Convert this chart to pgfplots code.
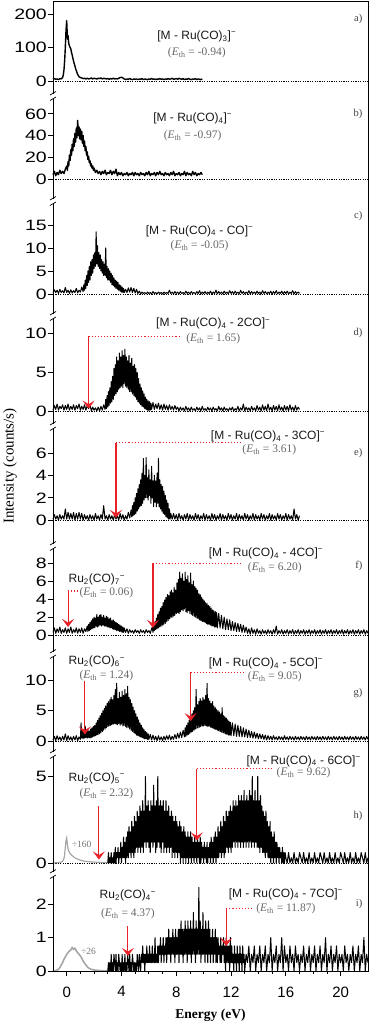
\documentclass[border=0pt]{standalone}
\usepackage{pgfplots}
\pgfplotsset{compat=1.18}
\usepackage{fontspec}
\setmainfont{Liberation Serif}
\setsansfont{Liberation Sans}
\newfontfamily\ytickfont[FakeStretch=1.3]{Liberation Sans}
\usetikzlibrary{arrows.meta}
\definecolor{arrred}{RGB}{232,32,40}
\pgfplotsset{
  panel/.style={
    scale only axis, width=315pt, xmin=-1, xmax=22, clip=false,
    axis line style={draw=none},
    xtick=\empty, ytick pos=left, tick align=outside,
    major tick length=5pt, minor tick length=3pt,
    every tick/.style={black, line width=0.8pt},
    yticklabel style={font=\ytickfont\fontsize{15}{15}\selectfont, inner xsep=1pt},
    /pgf/number format/assume math mode=true,
    anchor=north west,
  },
  trace/.style={black, line width=1.0pt, line join=round},
  zero/.style={black, line width=0.4pt, dash pattern=on 1.2pt off 1.2pt},
}
\tikzset{
  formula/.style={font=\fontsize{12}{12}\sffamily, text=black!90, inner sep=0pt},
  eth/.style={font=\fontsize{11.5}{11.5}\rmfamily, text=black!60, inner sep=0pt},
  plabel/.style={font=\fontsize{10.5}{10.5}\rmfamily, text=black!75, anchor=east, inner sep=0pt},
  redarrow/.style={arrred, line width=1.1pt, -{Stealth[length=8pt,width=12pt,inset=3.5pt]}},
  reddot/.style={arrred, line width=1.1pt, dotted},
}
\newcommand{\Eth}[1]{(\textit{E}\textsubscript{th} = #1)}
\begin{document}
\begin{tikzpicture}
% ---------------- a ----------------
\begin{axis}[panel, name=pa, at={(0pt,0pt)}, height=95pt, ymin=-45, ymax=239, ytick={0,100,200}]
\addplot[zero] coordinates {(-1,0)(22,0)};
\addplot[trace, line width=1.4pt] coordinates {(-1.0,5)(-0.9,7)(-0.8,5)(-0.7,6)(-0.6,4)(-0.5,7)(-0.4,6)(-0.3,10)(-0.25,18)(-0.2,32)(-0.15,60)(-0.1,100)(-0.05,150)(0,180)(0.03,150)(0.06,125)(0.1,135)(0.15,112)(0.2,105)(0.25,100)(0.3,96)(0.35,85)(0.4,78)(0.45,68)(0.5,60)(0.55,52)(0.6,45)(0.65,37)(0.7,31)(0.75,25)(0.8,20)(0.85,16)(0.9,13)(1.0,10)(1.1,9)(1.2,7)(1.3,8)(1.4,6)(1.5,8)(1.6,6)(1.7,7)(1.8,9)(1.9,6)(2.0,8)(2.1,7)(2.2,6)(2.3,8)(2.4,7)(2.5,9)(2.6,6)(2.7,8)(2.8,7)(2.9,6)(3.0,7)(3.1,5)(3.2,7)(3.3,6)(3.4,8)(3.5,6)(3.6,7)(3.7,6)(3.8,8)(3.9,10)(4.0,11)(4.1,9)(4.2,6)(4.3,4)(4.4,6)(4.5,5)(4.6,7)(4.7,5)(4.8,4)(4.9,6)(5.0,5)(5.1,6)(5.2,4)(5.3,6)(5.4,5)(5.5,7)(5.6,4)(5.7,6)(5.8,5)(5.9,4)(6.0,6)(6.1,5)(6.2,7)(6.3,5)(6.4,6)(6.5,4)(6.6,6)(6.7,5)(6.8,7)(6.9,5)(7.0,6)(7.1,4)(7.2,6)(7.3,5)(7.4,7)(7.5,5)(7.6,6)(7.7,8)(7.8,5)(7.9,6)(8.0,7)(8.1,5)(8.2,8)(8.3,6)(8.4,5)(8.5,7)(8.6,4)(8.7,6)(8.8,5)(8.9,7)(9.0,5)(9.1,4)(9.2,6)(9.3,5)(9.4,7)(9.5,4)(9.6,6)(9.7,5)(9.8,4)(9.9,6)};
\node[formula] at (axis cs:9.5,134) {[M - Ru(CO)\textsubscript{3}]\textsuperscript{−}};
\node[eth] at (axis cs:9.5,84) {\Eth{-0.94}};
\node[plabel] at (axis cs:21.6,185) {a)};
\end{axis}
% ---------------- b ----------------
\begin{axis}[panel, name=pb, at={(0pt,-95pt)}, height=105pt, ymin=-20.3, ymax=76.5, ytick={0,20,40,60}]
\addplot[zero] coordinates {(-1,0)(22,0)};
\addplot[trace, line width=1.4pt] coordinates {(-1.0,4)(-0.9,7)(-0.8,3)(-0.7,6)(-0.6,4)(-0.5,8)(-0.4,5)(-0.3,7)(-0.2,5)(-0.1,9)(0.0,12)(0.05,8)(0.1,16)(0.15,12)(0.2,22)(0.25,17)(0.3,27)(0.35,22)(0.4,32)(0.45,26)(0.5,37)(0.55,30)(0.6,42)(0.65,34)(0.7,47)(0.75,38)(0.8,54)(0.85,40)(0.9,48)(0.95,37)(1.0,46)(1.05,36)(1.1,44)(1.15,33)(1.2,40)(1.25,30)(1.3,35)(1.35,26)(1.4,30)(1.45,22)(1.5,25)(1.55,18)(1.6,21)(1.65,15)(1.7,17)(1.75,12)(1.8,14)(1.85,10)(1.9,12)(1.95,8)(2.0,10)(2.1,6)(2.2,8)(2.3,5)(2.4,7)(2.5,4)(2.6,7)(2.7,5)(2.8,8)(2.9,4)(3.0,6)(3.1,5)(3.2,8)(3.3,4)(3.4,7)(3.5,5)(3.6,9)(3.7,3)(3.8,6)(3.9,4)(4.0,6)(4.1,3)(4.2,5)(4.3,4)(4.4,6)(4.5,3)(4.6,5)(4.7,4)(4.8,6)(4.9,3)(5.0,6)(5.1,4)(5.2,5)(5.3,3)(5.4,6)(5.5,4)(5.6,5)(5.7,3)(5.8,6)(5.9,4)(6.0,7)(6.1,3)(6.2,5)(6.3,4)(6.4,6)(6.5,3)(6.6,6)(6.7,4)(6.8,7)(6.9,4)(7.0,5)(7.1,3)(7.2,6)(7.3,4)(7.4,5)(7.5,3)(7.6,6)(7.7,4)(7.8,7)(7.9,3)(8.0,5)(8.1,4)(8.2,6)(8.3,3)(8.4,5)(8.5,4)(8.6,7)(8.7,3)(8.8,6)(8.9,4)(9.0,5)(9.1,3)(9.2,7)(9.3,4)(9.4,6)(9.5,3)(9.6,5)(9.7,4)(9.8,6)(9.9,4)};
\node[formula] at (axis cs:9.2,56) {[M - Ru(CO)\textsubscript{4}]\textsuperscript{−}};
\node[eth] at (axis cs:9.2,40) {\Eth{-0.97}};
\node[plabel] at (axis cs:21.6,60) {b)};
\end{axis}
% ---------------- c ----------------
\begin{axis}[panel, name=pc, at={(0pt,-200pt)}, height=115pt, ymin=-4.8, ymax=20.2, ytick={0,5,10,15}]
\addplot[zero] coordinates {(-1,0)(22,0)};
\addplot[trace] coordinates {(-1.0,0.2)(-0.9,0.9)(-0.8,0.3)(-0.7,0.8)(-0.6,0.1)(-0.5,1.0)(-0.4,0.3)(-0.3,0.7)(-0.2,0.2)(-0.1,1.4)(0.0,0.3)(0.1,0.8)(0.2,0.1)(0.3,0.9)(0.4,0.2)(0.5,0.7)(0.6,0.3)(0.7,1.2)(0.8,0.2)(0.9,0.8)(1.0,0.4)(1.1,1.5)(1.2,0.5)(1.25,2.0)(1.3,0.8)(1.35,3.0)(1.4,1.2)(1.45,4.0)(1.5,1.8)(1.55,5.0)(1.6,2.5)(1.65,6.0)(1.7,3.0)(1.75,7.0)(1.8,4.0)(1.85,7.5)(1.9,4.5)(1.95,8.5)(2.0,5.5)(2.05,9.0)(2.1,6.0)(2.15,13.5)(2.2,6.5)(2.25,10.5)(2.3,6.0)(2.35,9.0)(2.4,5.5)(2.45,8.5)(2.5,5.0)(2.55,7.5)(2.6,4.5)(2.65,7.0)(2.7,4.0)(2.75,6.5)(2.8,4.0)(2.85,10.0)(2.9,3.5)(2.95,6.0)(3.0,3.0)(3.05,5.5)(3.1,3.0)(3.15,5.0)(3.2,2.5)(3.25,4.5)(3.3,2.0)(3.35,4.0)(3.4,1.8)(3.45,3.5)(3.5,1.5)(3.55,3.0)(3.6,1.2)(3.65,2.8)(3.7,1.0)(3.75,2.5)(3.8,0.8)(3.85,2.0)(3.9,0.6)(3.95,1.8)(4.0,0.4)(4.05,1.5)(4.1,0.3)(4.15,1.2)(4.2,0.3)(4.3,1.0)(4.4,0.3)(4.5,1.3)(4.6,0.4)(4.7,1.4)(4.8,0.3)(4.9,1.2)(5.0,0.2)(5.1,1.0)(5.2,0.1)(5.3,0.6)(5.4,0.0)(5.5,0.4)(5.6,0.1)(5.7,0.3)(5.8,0.0)(5.9,0.4)(6.0,0.1)(6.1,0.3)(6.2,0.0)(6.3,0.5)(6.4,0.1)(6.5,0.3)(6.6,0.0)(6.7,0.4)(6.8,0.1)(6.9,0.3)(7.0,0.0)(7.1,0.4)(7.2,0.1)(7.3,0.3)(7.4,0.1)(7.5,0.8)(7.6,0.1)(7.7,0.4)(7.8,0.0)(7.9,0.5)(8.0,0.1)(8.1,0.4)(8.2,0.0)(8.3,0.5)(8.4,0.1)(8.5,0.3)(8.6,0.0)(8.7,0.6)(8.8,0.1)(8.9,0.4)(9.0,0.0)(9.1,0.5)(9.2,0.1)(9.3,0.3)(9.4,0.0)(9.5,0.5)(9.6,0.1)(9.7,0.7)(9.8,0.0)(9.9,0.4)(10.0,0.1)(10.1,0.5)(10.2,0.0)(10.3,0.4)(10.4,0.1)(10.5,0.6)(10.6,0.0)(10.7,0.4)(10.8,0.1)(10.9,0.8)(11.0,0.0)(11.1,0.5)(11.2,0.1)(11.3,0.4)(11.4,0.0)(11.5,0.6)(11.6,0.1)(11.7,0.4)(11.8,0.0)(11.9,0.7)(12.0,0.1)(12.1,0.5)(12.2,0.0)(12.3,0.6)(12.4,0.1)(12.5,0.4)(12.6,0.0)(12.7,0.8)(12.8,0.1)(12.9,0.5)(13.0,0.0)(13.1,0.4)(13.2,0.1)(13.3,0.7)(13.4,0.0)(13.5,0.5)(13.6,0.1)(13.7,0.4)(13.8,0.0)(13.9,0.6)(14.0,0.1)(14.1,0.4)(14.2,0.0)(14.3,0.7)(14.4,0.1)(14.5,0.5)(14.6,0.0)(14.7,0.4)(14.8,0.1)(14.9,0.6)(15.0,0.0)(15.1,0.5)(15.2,0.1)(15.3,0.7)(15.4,0.0)(15.5,0.4)(15.6,0.1)(15.7,0.6)(15.8,0.0)(15.9,0.5)(16.0,0.1)(16.1,0.6)(16.2,0.0)(16.3,0.4)(16.4,0.1)(16.5,0.7)(16.6,0.0)(16.7,0.5)(16.8,0.1)(16.9,0.4)(17.0,0.1)};
\node[formula] at (axis cs:9.7,13.7) {[M - Ru(CO)\textsubscript{4} - CO]\textsuperscript{−}};
\node[eth] at (axis cs:9.7,10.4) {\Eth{-0.05}};
\node[plabel] at (axis cs:21.6,17) {c)};
\end{axis}
% ---------------- d ----------------
\begin{axis}[panel, name=pd, at={(0pt,-315pt)}, height=110pt, ymin=-1.95, ymax=12.3, ytick={0,5,10}]
\addplot[zero] coordinates {(-1,0)(22,0)};
\addplot[trace] coordinates {(-1.0,0.1)(-0.9,0.7)(-0.8,0.2)(-0.7,0.9)(-0.6,0.1)(-0.5,0.6)(-0.4,0.3)(-0.3,0.8)(-0.2,0.1)(-0.1,0.7)(0.0,0.2)(0.1,0.9)(0.2,0.1)(0.3,0.6)(0.4,0.2)(0.5,0.8)(0.6,0.1)(0.7,0.7)(0.8,0.3)(0.9,0.9)(1.0,0.1)(1.1,0.6)(1.2,0.2)(1.3,0.8)(1.4,0.1)(1.5,0.7)(1.6,0.3)(1.7,0.8)(1.8,0.0)(1.9,0.5)(2.0,0.1)(2.1,0.4)(2.2,0.0)(2.3,0.5)(2.4,0.0)(2.5,0.6)(2.6,0.1)(2.7,0.8)(2.8,0.2)(2.85,1.5)(2.9,0.3)(2.95,2.0)(3.0,0.5)(3.05,2.5)(3.1,0.7)(3.15,3.0)(3.2,1.0)(3.25,3.8)(3.3,1.2)(3.35,4.5)(3.4,1.5)(3.45,5.5)(3.5,2.0)(3.55,6.0)(3.6,2.2)(3.65,7.0)(3.7,2.5)(3.75,6.5)(3.8,2.8)(3.85,7.5)(3.9,3.0)(3.95,7.0)(4.0,3.2)(4.05,7.8)(4.1,3.0)(4.15,7.2)(4.2,3.5)(4.25,8.0)(4.3,3.2)(4.35,7.0)(4.4,3.0)(4.45,6.5)(4.5,2.8)(4.55,7.2)(4.6,2.5)(4.65,6.2)(4.7,2.5)(4.75,6.8)(4.8,2.2)(4.85,5.8)(4.9,2.0)(4.95,6.0)(5.0,1.8)(5.05,5.5)(5.1,1.5)(5.15,5.0)(5.2,1.2)(5.25,4.2)(5.3,1.0)(5.35,3.5)(5.4,0.8)(5.45,3.0)(5.5,0.6)(5.55,2.6)(5.6,0.5)(5.65,2.2)(5.7,0.3)(5.75,1.8)(5.8,0.2)(5.85,1.5)(5.9,0.1)(5.95,1.3)(6.0,0.0)(6.05,1.2)(6.1,0.1)(6.15,1.0)(6.2,0.2)(6.3,1.1)(6.4,0.2)(6.5,0.9)(6.6,0.3)(6.7,1.0)(6.8,0.2)(6.9,0.8)(7.0,0.1)(7.1,0.9)(7.2,0.2)(7.3,0.7)(7.4,0.1)(7.5,0.8)(7.6,0.2)(7.7,0.6)(7.8,0.1)(7.9,0.7)(8.0,0.2)(8.1,0.5)(8.2,0.0)(8.3,0.5)(8.4,0.1)(8.5,0.4)(8.6,0.0)(8.7,0.6)(8.8,0.1)(8.9,0.4)(9.0,0.0)(9.1,0.5)(9.2,0.1)(9.3,0.3)(9.4,0.0)(9.5,0.5)(9.6,0.1)(9.7,0.4)(9.8,0.0)(9.9,0.6)(10.0,0.1)(10.1,0.3)(10.2,0.0)(10.3,0.5)(10.4,0.1)(10.5,0.4)(10.6,0.0)(10.7,0.5)(10.8,0.1)(10.9,0.3)(11.0,0.0)(11.1,0.6)(11.2,0.1)(11.3,0.4)(11.4,0.0)(11.5,0.5)(11.6,0.1)(11.7,0.3)(11.8,0.0)(11.9,0.4)(12.0,0.1)(12.1,0.5)(12.2,0.0)(12.3,0.3)(12.4,0.1)(12.5,0.6)(12.6,0.0)(12.7,0.4)(12.8,0.1)(12.9,0.9)(13.0,0.0)(13.1,0.5)(13.2,0.1)(13.3,0.4)(13.4,0.0)(13.5,0.6)(13.6,0.1)(13.7,0.4)(13.8,0.0)(13.9,0.7)(14.0,0.1)(14.1,0.5)(14.2,0.0)(14.3,0.8)(14.4,0.1)(14.5,0.6)(14.6,0.0)(14.7,0.9)(14.8,0.1)(14.9,0.5)(15.0,0.0)(15.1,0.7)(15.2,0.1)(15.3,0.6)(15.4,0.0)(15.5,0.8)(15.6,0.1)(15.7,0.5)(15.8,0.0)(15.9,0.7)(16.0,0.1)(16.1,0.6)(16.2,0.0)(16.3,0.8)(16.4,0.1)(16.5,0.5)(16.6,0.0)(16.7,0.7)(16.8,0.1)(16.9,0.5)(17.0,0.2)};
\draw[reddot] (axis cs:1.6,9.7) -- (axis cs:8.2,9.7);
\draw[redarrow] (axis cs:1.6,9.7) -- (axis cs:1.6,0.3);
\node[formula] at (axis cs:10.7,11.3) {[M - Ru(CO)\textsubscript{4} - 2CO]\textsuperscript{−}};
\node[eth] at (axis cs:10.7,9.35) {\Eth{1.65}};
\node[plabel] at (axis cs:21.6,10.1) {d)};
\end{axis}
% ---------------- e ----------------
\begin{axis}[panel, name=pe, at={(0pt,-425pt)}, height=120pt, ymin=-2.3, ymax=8.4, ytick={0,2,4,6}]
\addplot[zero] coordinates {(-1,0)(22,0)};
\addplot[trace] coordinates {(-1.0,0.1)(-0.9,0.5)(-0.8,0.1)(-0.7,0.4)(-0.6,0.0)(-0.5,0.5)(-0.4,0.1)(-0.3,0.4)(-0.2,0.1)(-0.1,1.0)(0.0,0.1)(0.1,0.7)(0.2,0.1)(0.3,0.6)(0.4,0.1)(0.5,0.7)(0.6,0.0)(0.7,0.6)(0.8,0.1)(0.9,0.7)(1.0,0.1)(1.1,0.6)(1.2,0.0)(1.3,0.5)(1.4,0.1)(1.5,0.4)(1.6,0.0)(1.7,0.5)(1.8,0.1)(1.9,0.4)(2.0,0.0)(2.1,0.6)(2.2,0.1)(2.3,0.4)(2.4,0.0)(2.5,0.5)(2.6,0.1)(2.7,1.3)(2.8,0.1)(2.9,0.4)(3.0,0.0)(3.1,0.5)(3.2,0.1)(3.3,0.4)(3.4,0.0)(3.5,0.5)(3.6,0.1)(3.7,0.4)(3.8,0.0)(3.9,0.6)(4.0,0.1)(4.1,0.5)(4.2,0.0)(4.3,0.4)(4.4,0.1)(4.5,0.7)(4.6,0.2)(4.7,0.9)(4.75,0.3)(4.8,1.3)(4.85,0.4)(4.9,1.6)(4.95,0.5)(5.0,2.0)(5.05,0.6)(5.1,2.4)(5.15,0.8)(5.2,2.8)(5.25,1.0)(5.3,3.2)(5.35,1.2)(5.4,3.6)(5.45,1.3)(5.5,4.2)(5.55,1.5)(5.6,5.5)(5.65,1.8)(5.7,4.0)(5.75,2.0)(5.8,5.6)(5.85,2.0)(5.9,3.8)(5.95,1.8)(6.0,4.5)(6.05,2.2)(6.1,3.6)(6.15,1.5)(6.2,4.8)(6.25,2.0)(6.3,3.5)(6.35,1.2)(6.4,4.0)(6.45,1.6)(6.5,3.5)(6.55,1.2)(6.6,4.2)(6.65,1.5)(6.7,5.5)(6.75,1.2)(6.8,3.6)(6.85,1.0)(6.9,3.2)(6.95,0.8)(7.0,3.0)(7.05,0.6)(7.1,2.6)(7.15,0.5)(7.2,2.2)(7.25,0.3)(7.3,1.8)(7.35,0.2)(7.4,1.5)(7.45,0.1)(7.5,1.0)(7.55,0.1)(7.6,0.6)(7.7,0.1)(7.8,0.6)(7.9,0.1)(8.0,0.5)(8.1,0.0)(8.2,0.6)(8.3,0.1)(8.4,0.4)(8.5,0.0)(8.6,0.5)(8.7,0.1)(8.8,0.6)(8.9,0.0)(9.0,0.5)(9.1,0.1)(9.2,0.4)(9.3,0.0)(9.4,0.6)(9.5,0.1)(9.6,0.5)(9.7,0.0)(9.8,0.4)(9.9,0.1)(10.0,0.6)(10.1,0.0)(10.2,0.5)(10.3,0.1)(10.4,0.4)(10.5,0.0)(10.6,0.6)(10.7,0.1)(10.8,0.5)(10.9,0.0)(11.0,0.4)(11.1,0.1)(11.2,0.6)(11.3,0.0)(11.4,0.5)(11.5,0.1)(11.6,0.4)(11.7,0.0)(11.8,0.6)(11.9,0.1)(12.0,0.5)(12.1,0.0)(12.2,0.4)(12.3,0.1)(12.4,0.6)(12.5,0.0)(12.6,0.5)(12.7,0.1)(12.8,0.4)(12.9,0.0)(13.0,0.6)(13.1,0.1)(13.2,0.5)(13.3,0.0)(13.4,0.4)(13.5,0.1)(13.6,0.6)(13.7,0.0)(13.8,0.5)(13.9,0.1)(14.0,0.4)(14.1,0.0)(14.2,0.6)(14.3,0.1)(14.4,0.5)(14.5,0.0)(14.6,0.4)(14.7,0.1)(14.8,0.6)(14.9,0.0)(15.0,0.5)(15.1,0.1)(15.2,0.4)(15.3,0.0)(15.4,0.6)(15.5,0.1)(15.6,0.5)(15.7,0.0)(15.8,0.4)(15.9,0.1)(16.0,0.6)(16.1,0.0)(16.2,0.5)(16.3,0.1)(16.4,0.4)(16.5,0.0)(16.6,1.0)(16.7,0.1)(16.8,0.5)(16.9,0.0)(17.0,0.4)};
\draw[reddot] (axis cs:3.6,6.9) -- (axis cs:12.7,6.9);
\draw[redarrow] (axis cs:3.6,6.9) -- (axis cs:3.6,0.2);
\node[formula] at (axis cs:14.7,7.5) {[M - Ru(CO)\textsubscript{4} - 3CO]\textsuperscript{−}};
\node[eth] at (axis cs:14.8,6.3) {\Eth{3.61}};
\node[plabel] at (axis cs:21.6,6) {e)};
\end{axis}
% ---------------- f ----------------
\begin{axis}[panel, name=pf, at={(0pt,-545pt)}, height=108pt, ymin=-2.1, ymax=9.9, ytick={0,2,4,6,8}]
\addplot[zero] coordinates {(-1,0)(22,0)};
\addplot[trace] coordinates {(-1.0,0.3)(-0.9,0.8)(-0.8,0.2)(-0.7,0.7)(-0.6,0.3)(-0.5,0.9)(-0.4,0.2)(-0.3,0.6)(-0.2,0.3)(-0.1,0.8)(0.0,0.2)(0.1,0.7)(0.2,0.3)(0.3,0.9)(0.4,0.2)(0.5,0.6)(0.6,0.3)(0.7,0.8)(0.8,0.2)(0.9,0.7)(1.0,0.3)(1.1,0.8)(1.2,0.2)(1.3,0.7)(1.4,0.4)(1.5,1.0)(1.55,0.4)(1.6,1.2)(1.65,0.5)(1.7,1.4)(1.75,0.6)(1.8,1.6)(1.85,0.7)(1.9,1.8)(1.95,0.8)(2.0,2.0)(2.05,0.8)(2.1,1.9)(2.15,1.0)(2.2,2.3)(2.25,0.9)(2.3,2.0)(2.35,1.0)(2.4,2.2)(2.45,1.1)(2.5,2.3)(2.55,1.0)(2.6,2.0)(2.65,1.1)(2.7,2.2)(2.75,1.0)(2.8,1.9)(2.85,1.0)(2.9,2.1)(2.95,0.9)(3.0,2.0)(3.05,0.9)(3.1,1.8)(3.15,0.8)(3.2,1.9)(3.25,0.8)(3.3,1.6)(3.35,0.7)(3.4,1.7)(3.45,0.6)(3.5,1.5)(3.55,0.6)(3.6,1.4)(3.65,0.5)(3.7,1.3)(3.75,0.5)(3.8,1.2)(3.85,0.4)(3.9,1.1)(3.95,0.4)(4.0,1.0)(4.05,0.3)(4.1,0.9)(4.15,0.3)(4.2,0.8)(4.3,0.3)(4.4,0.7)(4.5,0.2)(4.6,0.6)(4.7,0.3)(4.8,0.5)(4.9,0.2)(5.0,0.6)(5.1,0.3)(5.2,0.5)(5.3,0.2)(5.4,0.6)(5.5,0.3)(5.6,0.5)(5.7,0.2)(5.8,0.6)(5.9,0.3)(6.0,0.5)(6.1,0.2)(6.2,0.7)(6.25,0.9)(6.3,0.3)(6.35,1.2)(6.4,0.5)(6.45,1.5)(6.5,0.6)(6.55,1.9)(6.6,0.7)(6.65,2.3)(6.7,0.8)(6.75,2.6)(6.8,0.9)(6.85,3.0)(6.9,1.0)(6.95,3.2)(7.0,1.1)(7.05,3.6)(7.1,1.2)(7.15,3.9)(7.2,1.3)(7.25,4.2)(7.3,1.5)(7.35,4.5)(7.4,1.6)(7.45,4.4)(7.5,1.8)(7.55,4.8)(7.6,1.9)(7.65,5.0)(7.7,2.0)(7.75,4.7)(7.8,2.1)(7.85,5.3)(7.9,2.2)(7.95,5.0)(8.0,2.4)(8.05,5.8)(8.1,2.5)(8.15,6.2)(8.2,2.4)(8.25,7.0)(8.3,2.6)(8.35,6.3)(8.4,2.8)(8.45,6.8)(8.5,2.7)(8.55,6.0)(8.6,2.9)(8.65,7.0)(8.7,2.6)(8.75,6.2)(8.8,2.5)(8.85,6.6)(8.9,2.7)(8.95,5.8)(9.0,2.4)(9.05,6.9)(9.1,2.3)(9.15,5.6)(9.2,2.2)(9.25,6.0)(9.3,2.1)(9.35,5.4)(9.4,2.0)(9.45,5.2)(9.5,1.9)(9.55,5.0)(9.6,1.8)(9.65,4.6)(9.7,1.7)(9.75,4.5)(9.8,1.6)(9.85,4.2)(9.9,1.5)(9.95,4.0)(10.0,1.5)(10.05,3.8)(10.1,1.4)(10.15,3.6)(10.2,1.3)(10.25,3.5)(10.3,1.2)(10.35,3.3)(10.4,1.2)(10.45,3.2)(10.5,1.1)(10.55,3.0)(10.6,1.0)(10.65,2.8)(10.7,1.0)(10.75,2.7)(10.8,0.9)(10.85,2.6)(10.9,0.9)(10.95,2.5)(11.0,0.8)(11.1,2.4)(11.2,0.8)(11.3,2.2)(11.4,0.7)(11.5,2.0)(11.6,0.6)(11.7,1.8)(11.8,0.6)(11.9,1.7)(12.0,0.5)(12.1,1.5)(12.2,0.5)(12.3,1.4)(12.4,0.4)(12.5,1.3)(12.6,0.4)(12.7,1.2)(12.8,0.3)(12.9,1.1)(13.0,0.3)(13.1,0.9)(13.2,0.2)(13.3,0.7)(13.4,0.1)(13.5,0.8)(13.6,0.2)(13.7,0.6)(13.8,0.1)(13.9,0.7)(14.0,0.2)(14.1,0.5)(14.2,0.1)(14.3,0.6)(14.4,0.2)(14.5,0.5)(14.6,0.1)(14.7,0.6)(14.8,0.2)(14.9,0.5)(15.0,0.1)(15.1,0.6)(15.2,0.2)(15.3,1.0)(15.4,0.1)(15.5,0.5)(15.6,0.2)(15.7,0.6)(15.8,0.1)(15.9,0.5)(16.0,0.2)(16.1,0.6)(16.2,0.1)(16.3,0.5)(16.4,0.2)(16.5,0.6)(16.6,0.1)(16.7,0.5)(16.8,0.2)(16.9,0.6)(17.0,0.1)(17.1,0.5)(17.2,0.2)(17.3,0.6)(17.4,0.1)(17.5,0.5)(17.6,0.2)(17.7,0.6)(17.8,0.1)(17.9,0.5)(18.0,0.2)(18.1,0.6)(18.2,0.1)(18.3,0.5)(18.4,0.2)(18.5,0.6)(18.6,0.1)(18.7,0.5)(18.8,0.2)(18.9,0.6)(19.0,0.1)(19.1,0.5)(19.2,0.2)(19.3,0.6)(19.4,0.1)(19.5,0.5)(19.6,0.2)(19.7,0.6)(19.8,0.1)(19.9,0.5)(20.0,0.2)(20.1,0.6)(20.2,0.1)(20.3,0.5)(20.4,0.2)(20.5,0.6)(20.6,0.1)(20.7,0.5)(20.8,0.2)(20.9,0.6)(21.0,0.1)(21.1,0.5)(21.2,0.2)(21.3,0.6)(21.4,0.1)(21.5,0.5)(21.6,0.2)(21.7,0.6)(21.8,0.1)(21.9,0.5)(22.0,0.2)};
\draw[reddot] (axis cs:0.1,4.9) -- (axis cs:1.0,4.9);
\draw[redarrow] (axis cs:0.1,4.9) -- (axis cs:0.1,0.9);
\draw[reddot] (axis cs:6.3,8.0) -- (axis cs:12.85,8.0);
\draw[redarrow] (axis cs:6.3,8.0) -- (axis cs:6.3,0.8);
\node[formula] at (axis cs:2.2,6.2) {Ru\textsubscript{2}(CO)\textsubscript{7}\textsuperscript{−}};
\node[eth] at (axis cs:2.9,4.7) {\Eth{0.06}};
\node[formula] at (axis cs:14.55,9.1) {[M - Ru(CO)\textsubscript{4} - 4CO]\textsuperscript{−}};
\node[eth] at (axis cs:15.2,7.5) {\Eth{6.20}};
\node[plabel] at (axis cs:21.6,7.7) {f)};
\end{axis}
% ---------------- g ----------------
\begin{axis}[panel, name=pg, at={(0pt,-653pt)}, height=100pt, ymin=-2.1, ymax=14.3, ytick={0,5,10}]
\addplot[zero] coordinates {(-1,0)(22,0)};
\addplot[trace] coordinates {(-1.0,0.2)(-0.9,0.8)(-0.8,0.1)(-0.7,0.9)(-0.6,0.2)(-0.5,0.7)(-0.4,0.1)(-0.3,0.8)(-0.2,0.2)(-0.1,1.2)(0.0,0.1)(0.1,0.9)(0.2,0.2)(0.3,0.7)(0.4,0.1)(0.5,0.8)(0.6,0.2)(0.7,0.9)(0.8,0.1)(0.9,0.7)(1.0,0.3)(1.05,3.0)(1.1,0.5)(1.15,1.8)(1.2,0.4)(1.25,1.5)(1.3,0.5)(1.35,2.5)(1.4,0.6)(1.45,1.6)(1.5,0.5)(1.55,1.8)(1.6,0.6)(1.65,1.7)(1.7,0.5)(1.75,2.0)(1.8,0.6)(1.85,2.2)(1.9,0.7)(1.95,2.4)(2.0,0.8)(2.05,2.6)(2.1,0.9)(2.15,3.0)(2.2,1.0)(2.25,3.4)(2.3,1.1)(2.35,3.8)(2.4,1.2)(2.45,4.2)(2.5,1.4)(2.55,4.6)(2.6,1.6)(2.65,5.0)(2.7,1.8)(2.75,5.4)(2.8,2.0)(2.85,5.8)(2.9,2.2)(2.95,6.2)(3.0,2.4)(3.05,6.5)(3.1,2.5)(3.15,6.8)(3.2,2.6)(3.25,7.2)(3.3,2.7)(3.35,6.8)(3.4,2.8)(3.45,7.5)(3.5,2.9)(3.55,8.5)(3.6,2.8)(3.65,9.5)(3.7,2.7)(3.75,7.0)(3.8,2.9)(3.85,8.0)(3.9,2.6)(3.95,7.2)(4.0,2.8)(4.05,8.2)(4.1,2.5)(4.15,7.5)(4.2,2.6)(4.25,8.5)(4.3,2.4)(4.35,7.8)(4.4,2.2)(4.45,9.0)(4.5,2.3)(4.55,7.2)(4.6,2.0)(4.65,6.8)(4.7,1.8)(4.75,6.2)(4.8,1.6)(4.85,5.6)(4.9,1.4)(4.95,5.0)(5.0,1.2)(5.05,4.5)(5.1,1.0)(5.15,4.0)(5.2,0.9)(5.25,3.5)(5.3,0.8)(5.35,3.0)(5.4,0.7)(5.45,2.6)(5.5,0.6)(5.55,2.2)(5.6,0.5)(5.65,1.9)(5.7,0.4)(5.75,1.6)(5.8,0.4)(5.85,1.4)(5.9,0.3)(5.95,1.2)(6.0,0.3)(6.1,1.1)(6.2,0.2)(6.3,1.0)(6.4,0.2)(6.5,0.8)(6.6,0.1)(6.7,0.9)(6.8,0.2)(6.9,0.7)(7.0,0.1)(7.1,0.8)(7.2,0.2)(7.3,0.9)(7.4,0.3)(7.5,1.0)(7.6,0.2)(7.7,0.8)(7.8,0.3)(7.9,1.1)(8.0,0.4)(8.1,1.3)(8.2,0.5)(8.3,1.5)(8.4,0.6)(8.5,1.8)(8.6,0.7)(8.65,2.2)(8.7,0.8)(8.75,2.6)(8.8,1.0)(8.85,3.0)(8.9,1.1)(8.95,3.5)(9.0,1.3)(9.05,4.0)(9.1,1.5)(9.15,4.5)(9.2,1.6)(9.25,5.0)(9.3,1.8)(9.35,5.5)(9.4,2.0)(9.45,8.5)(9.5,2.1)(9.55,6.0)(9.6,2.2)(9.65,6.5)(9.7,2.3)(9.75,7.0)(9.8,2.4)(9.85,6.6)(9.9,2.5)(9.95,7.2)(10.0,2.5)(10.05,6.8)(10.1,2.6)(10.15,7.5)(10.2,2.5)(10.25,9.5)(10.3,2.4)(10.35,7.0)(10.4,2.5)(10.45,6.6)(10.5,2.3)(10.55,6.2)(10.6,2.2)(10.65,6.5)(10.7,2.1)(10.75,5.8)(10.8,2.0)(10.85,5.5)(10.9,1.9)(10.95,5.2)(11.0,1.8)(11.05,5.0)(11.1,1.7)(11.15,4.8)(11.2,1.6)(11.25,4.5)(11.3,1.5)(11.35,5.5)(11.4,1.4)(11.45,4.2)(11.5,1.3)(11.55,4.0)(11.6,1.2)(11.65,3.8)(11.7,1.1)(11.75,3.5)(11.8,1.0)(11.85,3.3)(11.9,1.0)(11.95,3.1)(12.0,0.9)(12.1,3.0)(12.2,0.9)(12.3,2.8)(12.4,0.8)(12.5,2.6)(12.6,0.8)(12.7,2.4)(12.8,0.7)(12.9,2.2)(13.0,0.7)(13.1,2.0)(13.2,0.6)(13.3,1.8)(13.4,0.6)(13.5,1.6)(13.6,0.5)(13.7,1.5)(13.8,0.5)(13.9,1.3)(14.0,0.4)(14.1,1.2)(14.2,0.4)(14.3,1.1)(14.4,0.3)(14.5,1.0)(14.6,0.2)(14.7,0.9)(14.8,0.3)(14.9,0.8)(15.0,0.2)(15.1,0.9)(15.2,0.3)(15.3,0.7)(15.4,0.2)(15.5,0.8)(15.6,0.3)(15.7,0.7)(15.8,0.2)(15.9,0.9)(16.0,0.3)(16.1,0.7)(16.2,0.2)(16.3,0.8)(16.4,0.3)(16.5,0.7)(16.6,0.2)(16.7,0.8)(16.8,0.3)(16.9,0.7)(17.0,0.2)(17.1,0.8)(17.2,0.3)(17.3,0.7)(17.4,0.2)(17.5,0.8)(17.6,0.3)(17.7,0.7)(17.8,0.2)(17.9,0.8)(18.0,0.3)(18.1,0.7)(18.2,0.2)(18.3,0.8)(18.4,0.3)(18.5,0.7)(18.6,0.2)(18.7,0.8)(18.8,0.3)(18.9,0.7)(19.0,0.2)(19.1,0.8)(19.2,0.3)(19.3,0.7)(19.4,0.2)(19.5,0.8)(19.6,0.3)(19.7,0.7)(19.8,0.2)(19.9,0.8)(20.0,0.3)(20.1,0.7)(20.2,0.2)(20.3,0.8)(20.4,0.3)(20.5,0.7)(20.6,0.2)(20.7,0.8)(20.8,0.3)(20.9,0.7)(21.0,0.2)(21.1,0.8)(21.2,0.3)(21.3,0.7)(21.4,0.2)(21.5,0.8)(21.6,0.3)(21.7,0.7)(21.8,0.2)(21.9,0.8)(22.0,0.3)};
\draw[redarrow] (axis cs:1.33,9.8) -- (axis cs:1.33,1.1);
\draw[reddot] (axis cs:9.05,11.3) -- (axis cs:13.0,11.3);
\draw[redarrow] (axis cs:9.05,11.3) -- (axis cs:9.05,3.3);
\node[formula] at (axis cs:2.2,13.1) {Ru\textsubscript{2}(CO)\textsubscript{6}\textsuperscript{−}};
\node[eth] at (axis cs:2.9,10.7) {\Eth{1.24}};
\node[formula] at (axis cs:14.55,12.8) {[M - Ru(CO)\textsubscript{4} - 5CO]\textsuperscript{−}};
\node[eth] at (axis cs:15.2,10.5) {\Eth{9.05}};
\node[plabel] at (axis cs:21.6,7.9) {g)};
\end{axis}
% ---------------- h ----------------
\begin{axis}[panel, name=ph, at={(0pt,-753pt)}, height=120pt, ymin=-0.64, ymax=6.3, ytick={0,5}]
\addplot[zero] coordinates {(-1,0)(22,0)};
\addplot[black!35, line width=1.2pt] coordinates {(-1.0,0.0)(-0.8,0.01)(-0.6,0.02)(-0.4,0.05)(-0.3,0.1)(-0.2,0.25)(-0.15,0.5)(-0.1,0.9)(-0.05,1.3)(0.0,1.45)(0.05,1.1)(0.1,0.8)(0.2,0.6)(0.3,0.5)(0.4,0.42)(0.6,0.3)(0.8,0.22)(1.0,0.16)(1.3,0.1)(1.6,0.07)(2.0,0.05)(2.5,0.03)(3.0,0.02)};
\addplot[trace] coordinates {(3.0,0.0)(3.05,0.6)(3.1,0.0)(3.15,0.3)(3.2,0.0)(3.25,0.6)(3.3,0.0)(3.35,0.3)(3.4,0.0)(3.45,0.6)(3.5,0.0)(3.55,0.9)(3.6,0.0)(3.65,0.6)(3.7,0.3)(3.75,0.9)(3.8,0.0)(3.85,0.6)(3.9,0.3)(3.95,1.2)(4.0,0.0)(4.05,0.9)(4.1,0.3)(4.15,1.5)(4.2,0.3)(4.25,1.2)(4.3,0.0)(4.35,1.5)(4.4,0.3)(4.45,1.8)(4.5,0.3)(4.55,2.1)(4.6,0.6)(4.65,1.8)(4.7,0.3)(4.75,2.4)(4.8,0.6)(4.85,2.1)(4.9,0.3)(4.95,2.7)(5.0,0.6)(5.05,2.4)(5.1,0.9)(5.15,3.0)(5.2,0.6)(5.25,2.7)(5.3,0.9)(5.35,3.3)(5.4,0.6)(5.45,3.0)(5.5,0.9)(5.55,3.6)(5.6,0.6)(5.65,3.0)(5.7,1.2)(5.75,5.0)(5.8,0.9)(5.85,3.3)(5.9,1.2)(5.95,3.6)(6.0,0.9)(6.05,3.0)(6.1,0.6)(6.15,3.6)(6.2,1.2)(6.25,3.3)(6.3,0.9)(6.35,4.5)(6.4,1.2)(6.45,3.3)(6.5,0.6)(6.55,3.6)(6.6,0.9)(6.65,5.0)(6.7,1.2)(6.75,3.3)(6.8,0.9)(6.85,3.6)(6.9,0.6)(6.95,3.3)(7.0,1.2)(7.05,3.6)(7.1,0.6)(7.15,3.0)(7.2,0.9)(7.25,3.6)(7.3,0.6)(7.35,3.0)(7.4,0.9)(7.45,3.3)(7.5,0.6)(7.55,2.7)(7.6,0.9)(7.65,3.0)(7.7,0.3)(7.75,2.7)(7.8,0.6)(7.85,2.4)(7.9,0.3)(7.95,2.7)(8.0,0.6)(8.05,2.4)(8.1,0.3)(8.15,2.1)(8.2,0.6)(8.25,2.4)(8.3,0.0)(8.35,2.1)(8.4,0.3)(8.45,1.8)(8.5,0.0)(8.55,2.1)(8.6,0.3)(8.65,1.8)(8.7,0.0)(8.75,1.5)(8.8,0.3)(8.85,1.8)(8.9,0.0)(8.95,1.5)(9.0,0.3)(9.05,1.8)(9.1,0.0)(9.15,1.5)(9.2,0.3)(9.25,1.2)(9.3,0.0)(9.35,1.5)(9.4,0.3)(9.45,1.2)(9.5,0.0)(9.55,1.5)(9.6,0.3)(9.65,1.2)(9.7,0.0)(9.75,1.5)(9.8,0.0)(9.85,1.2)(9.9,0.3)(9.95,0.9)(10.0,0.0)(10.05,1.2)(10.1,0.3)(10.15,0.9)(10.2,0.0)(10.25,1.2)(10.3,0.0)(10.35,0.9)(10.4,0.3)(10.45,1.2)(10.5,0.0)(10.55,1.5)(10.6,0.3)(10.65,1.2)(10.7,0.0)(10.75,1.5)(10.8,0.3)(10.85,1.8)(10.9,0.0)(10.95,1.5)(11.0,0.3)(11.05,2.1)(11.1,0.3)(11.15,1.8)(11.2,0.6)(11.25,2.4)(11.3,0.3)(11.35,2.1)(11.4,0.6)(11.45,2.7)(11.5,0.3)(11.55,2.4)(11.6,0.6)(11.65,3.0)(11.7,0.9)(11.75,2.7)(11.8,0.6)(11.85,3.0)(11.9,0.9)(11.95,3.3)(12.0,0.6)(12.05,3.0)(12.1,0.9)(12.15,3.6)(12.2,1.2)(12.25,3.3)(12.3,0.9)(12.35,3.6)(12.4,1.2)(12.45,3.3)(12.5,0.9)(12.55,3.9)(12.6,1.2)(12.65,3.6)(12.7,0.9)(12.75,3.9)(12.8,1.2)(12.85,3.6)(12.9,0.9)(12.95,4.2)(13.0,1.2)(13.05,3.6)(13.1,0.9)(13.15,3.9)(13.2,1.2)(13.25,3.6)(13.3,0.9)(13.35,4.2)(13.4,1.2)(13.45,3.9)(13.5,0.9)(13.55,5.0)(13.6,1.2)(13.65,3.6)(13.7,0.9)(13.75,4.2)(13.8,1.2)(13.85,3.6)(13.9,0.9)(13.95,5.0)(14.0,0.9)(14.05,3.6)(14.1,0.6)(14.15,3.9)(14.2,0.9)(14.25,3.3)(14.3,0.6)(14.35,3.0)(14.4,0.6)(14.45,2.7)(14.5,0.3)(14.55,3.0)(14.6,0.6)(14.65,2.4)(14.7,0.3)(14.75,2.1)(14.8,0.3)(14.85,2.4)(14.9,0.0)(14.95,1.8)(15.0,0.3)(15.05,1.5)(15.1,0.0)(15.15,1.8)(15.2,0.3)(15.25,1.2)(15.3,0.0)(15.35,1.2)(15.4,0.3)(15.45,0.9)(15.5,0.0)(15.55,0.9)(15.6,0.3)(15.65,0.6)(15.7,0.0)(15.75,0.9)(15.8,0.0)(15.85,0.6)(15.9,0.0)(15.95,0.6)(16.0,0.3)(16.1,0.0)(16.2,0.6)(16.3,0.0)(16.4,0.3)(16.5,0.0)(16.6,0.6)(16.7,0.0)(16.8,0.3)(16.9,0.0)(17.0,0.6)(17.1,0.3)(17.2,0.0)(17.3,0.6)(17.4,0.0)(17.5,0.3)(17.6,0.0)(17.7,0.6)(17.8,0.0)(17.9,0.3)(18.0,0.0)(18.1,0.6)(18.2,0.0)(18.3,0.3)(18.4,0.0)(18.5,0.6)(18.6,0.3)(18.7,0.0)(18.8,0.6)(18.9,0.0)(19.0,0.3)(19.1,0.0)(19.2,0.6)(19.3,0.0)(19.4,0.3)(19.5,0.0)(19.6,0.6)(19.7,0.0)(19.8,0.3)(19.9,0.0)(20.0,0.6)(20.1,0.3)(20.2,0.0)(20.3,0.6)(20.4,0.0)(20.5,0.3)(20.6,0.0)(20.7,0.6)(20.8,0.0)(20.9,0.3)(21.0,0.0)(21.1,0.6)(21.2,0.0)(21.3,0.3)(21.4,0.0)(21.5,0.6)(21.6,0.3)(21.7,0.0)(21.8,0.6)(21.9,0.0)(22.0,0.3)};
\draw[redarrow] (axis cs:2.35,3.3) -- (axis cs:2.35,0.2);
\draw[reddot] (axis cs:9.5,5.45) -- (axis cs:15.0,5.45);
\draw[redarrow] (axis cs:9.5,5.45) -- (axis cs:9.5,1.3);
\node[formula] at (axis cs:2.2,4.9) {Ru\textsubscript{2}(CO)\textsubscript{5}\textsuperscript{−}};
\node[eth] at (axis cs:2.9,4.0) {\Eth{2.32}};
\node[formula] at (axis cs:17.3,5.9) {[M - Ru(CO)\textsubscript{4} - 6CO]\textsuperscript{−}};
\node[eth] at (axis cs:17.3,5.2) {\Eth{9.62}};
\node[font=\fontsize{9.5}{9.5}\rmfamily, text=black!55, inner sep=0pt] at (axis cs:1.1,1.1) {÷160};
\node[plabel] at (axis cs:21.6,2.7) {h)};
\end{axis}
% ---------------- i ----------------
\begin{axis}[panel, name=pi, at={(0pt,-873pt)}, height=97pt, ymin=0, ymax=2.9, ytick={0,1,2},
  xtick={0,4,8,12,16,20}, xtick pos=bottom, minor x tick num=3,
  xticklabel style={font=\sffamily\fontsize{15}{15}\selectfont, yshift=-7pt}]
\addplot[black!35, line width=1.6pt] coordinates {(-1.0,0.0)(-0.8,0.01)(-0.6,0.05)(-0.5,0.1)(-0.4,0.18)(-0.3,0.25)(-0.2,0.35)(-0.1,0.42)(0.0,0.5)(0.1,0.55)(0.2,0.6)(0.3,0.63)(0.4,0.7)(0.5,0.65)(0.6,0.68)(0.7,0.6)(0.8,0.55)(0.9,0.5)(1.0,0.45)(1.1,0.38)(1.2,0.3)(1.3,0.24)(1.4,0.18)(1.5,0.13)(1.6,0.09)(1.8,0.05)(2.0,0.03)(2.5,0.01)(3.0,0.0)};
\addplot[trace] coordinates {(3.0,0.0)(3.05,0.25)(3.1,0.0)(3.15,0.25)(3.2,0.0)(3.25,0.5)(3.3,0.0)(3.35,0.25)(3.4,0.0)(3.45,0.5)(3.5,0.25)(3.55,0.0)(3.6,0.5)(3.65,0.0)(3.7,0.25)(3.75,0.0)(3.8,0.5)(3.85,0.25)(3.9,0.0)(3.95,0.25)(4.0,0.0)(4.05,0.5)(4.1,0.0)(4.15,0.25)(4.2,0.0)(4.25,0.5)(4.3,0.0)(4.35,0.25)(4.4,0.0)(4.45,0.5)(4.5,0.25)(4.55,0.0)(4.6,0.5)(4.65,0.0)(4.7,0.25)(4.75,0.0)(4.8,0.5)(4.85,0.25)(4.9,0.0)(4.95,0.25)(5.0,0.0)(5.05,0.25)(5.1,0.0)(5.15,0.5)(5.2,0.25)(5.25,0.0)(5.3,0.5)(5.35,0.25)(5.4,0.0)(5.45,0.5)(5.5,0.25)(5.55,0.75)(5.6,0.25)(5.65,0.5)(5.7,0.0)(5.75,0.5)(5.8,0.25)(5.85,0.75)(5.9,0.25)(5.95,0.5)(6.0,0.25)(6.05,0.75)(6.1,0.25)(6.15,0.5)(6.2,0.25)(6.25,0.75)(6.3,0.25)(6.35,0.5)(6.4,0.25)(6.45,1.0)(6.5,0.25)(6.55,0.5)(6.6,0.25)(6.65,0.75)(6.7,0.25)(6.75,0.75)(6.8,0.5)(6.85,1.0)(6.9,0.25)(6.95,0.75)(7.0,0.5)(7.05,1.0)(7.1,0.25)(7.15,0.75)(7.2,0.5)(7.25,1.0)(7.3,0.25)(7.35,1.0)(7.4,0.5)(7.45,1.25)(7.5,0.5)(7.55,1.0)(7.6,0.25)(7.65,1.0)(7.7,0.5)(7.75,1.25)(7.8,0.5)(7.85,1.0)(7.9,0.25)(7.95,1.25)(8.0,0.5)(8.05,1.0)(8.1,0.5)(8.15,1.25)(8.2,0.25)(8.25,1.25)(8.3,0.5)(8.35,1.5)(8.4,0.5)(8.45,1.25)(8.5,0.25)(8.55,1.25)(8.6,0.5)(8.65,1.5)(8.7,0.5)(8.75,1.25)(8.8,0.25)(8.85,1.5)(8.9,0.5)(8.95,1.25)(9.0,0.5)(9.05,1.5)(9.1,0.25)(9.15,1.25)(9.2,0.5)(9.25,1.75)(9.3,0.5)(9.35,1.25)(9.4,0.25)(9.45,1.5)(9.5,0.5)(9.55,1.25)(9.6,0.5)(9.65,2.5)(9.7,0.5)(9.75,1.5)(9.8,0.25)(9.85,1.25)(9.9,0.5)(9.95,1.75)(10.0,0.5)(10.05,1.25)(10.1,0.25)(10.15,1.5)(10.2,0.5)(10.25,1.25)(10.3,0.25)(10.35,1.5)(10.4,0.5)(10.45,1.25)(10.5,0.25)(10.55,1.0)(10.6,0.5)(10.65,1.25)(10.7,0.25)(10.75,1.0)(10.8,0.5)(10.85,1.25)(10.9,0.25)(10.95,1.0)(11.0,0.25)(11.05,1.0)(11.1,0.5)(11.15,0.75)(11.2,0.25)(11.25,1.0)(11.3,0.25)(11.35,0.75)(11.4,0.5)(11.45,1.0)(11.5,0.25)(11.55,0.75)(11.6,0.0)(11.65,1.0)(11.7,0.25)(11.75,0.75)(11.8,0.25)(11.85,0.75)(11.9,0.0)(11.95,1.0)(12.0,0.25)(12.05,0.75)(12.1,0.25)(12.15,0.5)(12.2,0.0)(12.25,0.75)(12.3,0.25)(12.35,0.5)(12.4,0.0)(12.45,0.75)(12.5,0.25)(12.55,0.5)(12.6,0.0)(12.65,0.75)(12.7,0.25)(12.75,0.5)(12.8,0.0)(12.85,0.75)(12.9,0.25)(12.95,0.5)(13.0,0.0)(13.1,0.5)(13.2,0.25)(13.3,0.75)(13.4,0.0)(13.5,0.5)(13.6,0.25)(13.7,0.75)(13.8,0.0)(13.9,0.5)(14.0,0.25)(14.1,0.75)(14.2,0.0)(14.3,0.5)(14.4,0.25)(14.5,0.75)(14.6,0.0)(14.7,0.5)(14.8,0.25)(14.9,1.0)(15.0,0.0)(15.1,0.5)(15.2,0.25)(15.3,0.75)(15.4,0.0)(15.5,0.5)(15.6,0.25)(15.7,1.0)(15.8,0.0)(15.9,0.75)(16.0,0.25)(16.1,0.5)(16.2,0.0)(16.3,0.75)(16.4,0.25)(16.5,0.5)(16.6,0.0)(16.7,0.75)(16.8,0.25)(16.9,0.5)(17.0,0.0)(17.1,0.5)(17.2,0.25)(17.3,0.75)(17.4,0.0)(17.5,0.5)(17.6,0.25)(17.7,0.75)(17.8,0.0)(17.9,0.5)(18.0,0.25)(18.1,0.75)(18.2,0.0)(18.3,0.5)(18.4,0.25)(18.5,0.75)(18.6,0.0)(18.7,0.5)(18.8,0.25)(18.9,1.0)(19.0,0.0)(19.1,0.5)(19.2,0.25)(19.3,0.75)(19.4,0.0)(19.5,0.5)(19.6,0.25)(19.7,0.75)(19.8,0.0)(19.9,0.5)(20.0,0.25)(20.1,0.5)(20.2,0.0)(20.3,0.75)(20.4,0.25)(20.5,0.5)(20.6,0.0)(20.7,0.5)(20.8,0.25)(20.9,0.75)(21.0,0.0)(21.1,0.5)(21.2,0.25)(21.3,0.75)(21.4,0.0)(21.5,0.5)(21.6,0.25)(21.7,1.0)(21.8,0.0)(21.9,0.5)(22.0,0.25)};
\draw[redarrow] (axis cs:4.47,1.34) -- (axis cs:4.47,0.45);
\draw[reddot] (axis cs:11.65,1.88) -- (axis cs:13.6,1.88);
\draw[redarrow] (axis cs:11.65,1.88) -- (axis cs:11.65,0.75);
\node[formula] at (axis cs:4.47,2.25) {Ru\textsubscript{2}(CO)\textsubscript{4}\textsuperscript{−}};
\node[eth] at (axis cs:4.47,1.7) {\Eth{4.37}};
\node[formula] at (axis cs:16,2.3) {[M - Ru(CO)\textsubscript{4} - 7CO]\textsuperscript{−}};
\node[eth] at (axis cs:16,1.85) {\Eth{11.87}};
\node[font=\fontsize{9.5}{9.5}\rmfamily, text=black!55, inner sep=0pt] at (axis cs:1.6,0.6) {÷26};
\node[plabel] at (axis cs:21.6,2.0) {i)};
\end{axis}
% frame
\draw[line width=0.8pt] (pa.north west) -- (pa.north east) -- (pi.south east) -- (pi.south west) -- cycle;
% axis breaks
\foreach \p in {pa,pb,pc,pd,pe,pf,pg,ph}{
  \fill[white] ([shift={(-4pt,-2pt)}]\p.south west) rectangle ([shift={(4pt,2pt)}]\p.south west);
  \draw[line width=0.7pt] ([shift={(-3pt,-4.5pt)}]\p.south west) -- ([shift={(3pt,-1pt)}]\p.south west);
  \draw[line width=0.7pt] ([shift={(-3pt,1pt)}]\p.south west) -- ([shift={(3pt,4.5pt)}]\p.south west);
}
\node[rotate=90, font=\fontsize{15}{15}\rmfamily] at (-43pt,-465pt) {Intensity (counts/s)};
\node[font=\bfseries\fontsize{13.5}{13.5}\selectfont] at (157.5pt,-1014pt) {Energy (eV)};
\pgfresetboundingbox
\path[use as bounding box] (-53pt,1pt) rectangle (317pt,-1023pt);
\end{tikzpicture}
\end{document}
